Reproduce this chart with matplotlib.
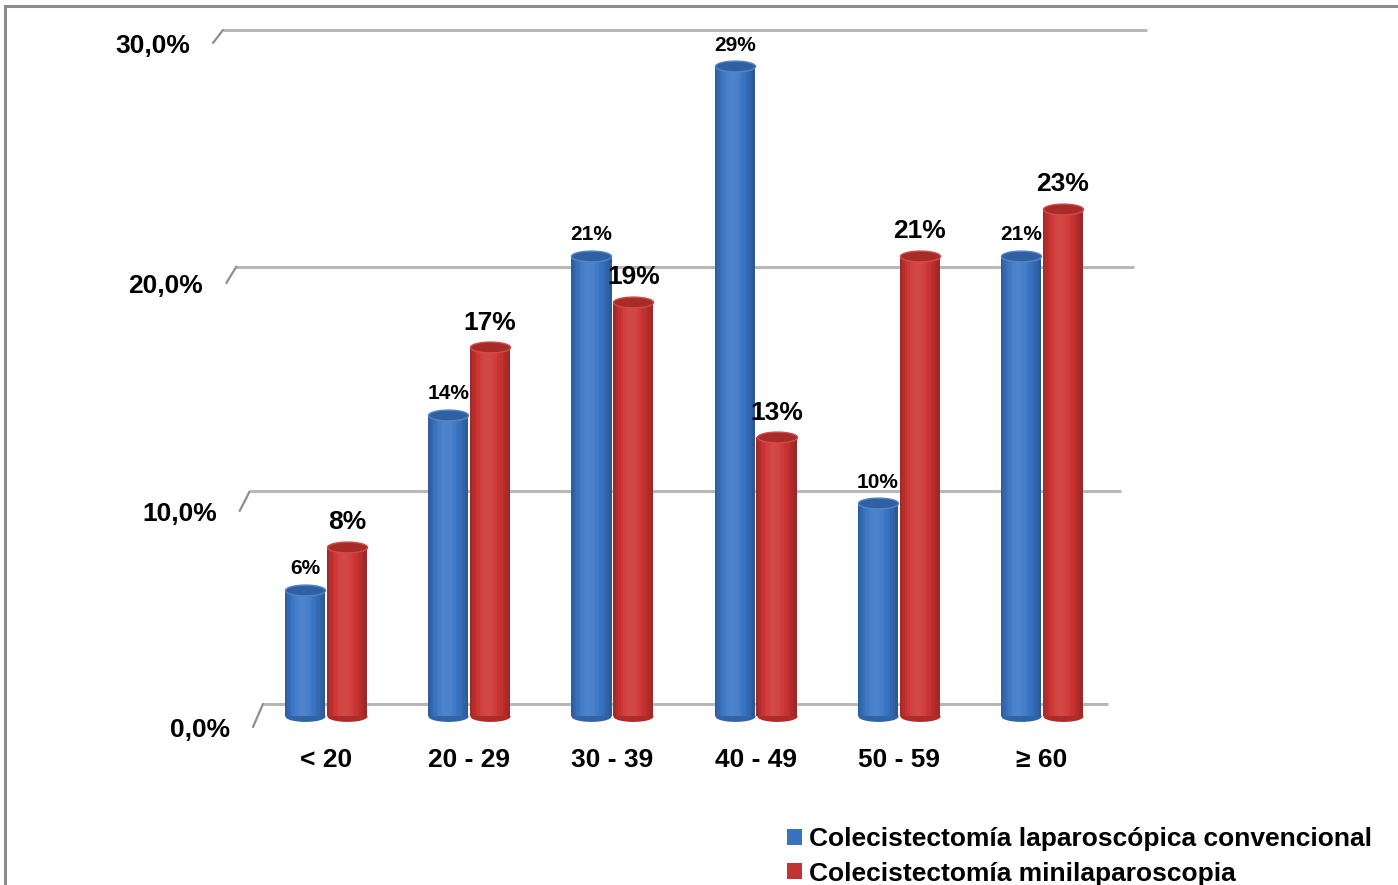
import numpy as np
import matplotlib
matplotlib.use("Agg")
import matplotlib.pyplot as plt
import matplotlib.transforms as mtransforms
from matplotlib.path import Path
from matplotlib.patches import Patch
from matplotlib.lines import Line2D

# ---- data -------------------------------------------------------------
categories = ["< 20", "20 - 29", "30 - 39", "40 - 49", "50 - 59", "≥ 60"]
convencional = [6, 14, 21, 29, 10, 21]
minilaparoscopia = [8, 17, 19, 13, 21, 23]
series_names = ["Colecistectomía laparoscópica convencional",
                "Colecistectomía minilaparoscopia"]
y_ticks = [0, 10, 20, 30]
y_tick_labels = ["0,0%", "10,0%", "20,0%", "30,0%"]

plt.rcParams["font.family"] = ["Liberation Sans", "DejaVu Sans"]
plt.rcParams["font.weight"] = "bold"

W, H = 1398, 885
fig = plt.figure(figsize=(W / 100, H / 100), dpi=100)
fig.patch.set_facecolor("white")


def px_rect(left, top, right, bottom):
    return [left / W, 1 - bottom / H, (right - left) / W, (bottom - top) / H]


# mild perspective on the value axis: gaps widen towards the top
K = 0.06 / 20.6


def fwd(v):
    v = np.asarray(v, float)
    return v + K * v * v


def inv(u):
    u = np.asarray(u, float)
    return (-1 + np.sqrt(np.clip(1 + 4 * K * u, 0, None))) / (2 * K)


step = 143.2
x0 = 326
xlim = ((223 - x0) / step, (1147 - x0) / step)

# back wall (gridlines) and the bar plane slightly in front of it
ax_grid = fig.add_axes(px_rect(223, 30, 1147, 704))
ax_bar = fig.add_axes(px_rect(223, 42, 1147, 716))
for ax in (ax_grid, ax_bar):
    ax.set_yscale("function", functions=(fwd, inv))
    ax.set_ylim(0, 30)
    ax.set_xlim(*xlim)
    ax.axis("off")

# ---- gridlines with perspective stubs ----------------------------------
blend = mtransforms.blended_transform_factory(ax_grid.transAxes, ax_grid.transData)
for v, lab in zip(y_ticks, y_tick_labels):
    depth = 1 - v / 30
    left = 40 * depth / 924
    right = 1 - 39 * depth / 924
    ax_grid.plot([left, right], [v, v], transform=blend, color="#b8b8b8",
                 lw=2.2, solid_capstyle="butt", clip_on=False, zorder=1)
    drop = 23 - v / 3
    ax_grid.annotate("", xy=(left, v), xycoords=blend, xytext=(-10, -drop),
                     textcoords="offset pixels",
                     arrowprops=dict(arrowstyle="-", color="#8e8e8e", lw=1.6,
                                     shrinkA=0, shrinkB=0))
    ax_grid.annotate(lab, xy=(left, v), xycoords=blend,
                     xytext=(-33, -drop - 10), textcoords="offset pixels",
                     ha="right", va="baseline", fontsize=19, fontweight="bold")

# ---- cylinder bars -----------------------------------------------------
x = np.arange(len(categories))
width = 0.28
offset = 0.146
n_slices = 16
t = (np.arange(n_slices) + 0.5) / n_slices
shade = 0.74 + 0.36 * np.sin(np.pi * t ** 0.85)


def shade_color(base, f):
    base = np.asarray(base, float)
    if f <= 1:
        return tuple(base * f)
    return tuple(base + (1 - base) * (f - 1))


theta = np.linspace(0, 2 * np.pi, 73)
ellipse = Path(np.column_stack([np.cos(theta), 0.27 * np.sin(theta)]), closed=True)
cap_size = (width * step * 0.72) ** 2

blue = np.array([58, 117, 196]) / 255
red = np.array([204, 52, 50]) / 255

specs = [
    (convencional, -offset, blue, 15, 15.5),
    (minilaparoscopia, offset, red, 19, 17.5),
]
for vals, dx, base, fs, lab_off in specs:
    xs = x + dx
    vals = np.asarray(vals, float)
    ax_bar.scatter(xs, np.zeros_like(vals), marker=ellipse, s=cap_size,
                   color=shade_color(base, 0.85), linewidths=0, zorder=2,
                   clip_on=False)
    for k in range(n_slices):
        ax_bar.bar(xs - width / 2 + (k + 0.5) * width / n_slices, vals,
                   width=width / n_slices * 1.1,
                   color=shade_color(base, shade[k]), linewidth=0, zorder=3)
    ax_bar.scatter(xs, vals, marker=ellipse, s=cap_size,
                   color=shade_color(base, 0.82),
                   edgecolors=[shade_color(base, 1.12)], linewidths=1.0,
                   zorder=4, clip_on=False)
    for xi, v in zip(xs, vals):
        ax_bar.annotate(f"{v:.0f}%", xy=(xi, v), xytext=(0, lab_off),
                        textcoords="offset pixels", ha="center",
                        va="baseline", fontsize=fs, fontweight="bold")

for i, cat in enumerate(categories):
    ax_bar.annotate(cat, xy=(i, 0), xytext=(0, -51), textcoords="offset pixels",
                    ha="center", va="baseline", fontsize=19, fontweight="bold")

# ---- legend ------------------------------------------------------------
handles = [Patch(facecolor="#3a72bd", edgecolor="none"),
           Patch(facecolor="#bf3532", edgecolor="none")]
fig.legend(handles, series_names, loc="upper left",
           bbox_to_anchor=(787 / W, 1 - 827 / H), frameon=False,
           prop={"size": 19, "weight": "bold"}, handlelength=0.55,
           handleheight=0.55, handletextpad=0.3, labelspacing=0.4,
           borderpad=0, borderaxespad=0)

# ---- outer frame (top and left edges) ----------------------------------
fig.add_artist(Line2D([5 / W, 1], [1 - 6 / H, 1 - 6 / H],
                      transform=fig.transFigure, color="#8c8c8c", lw=2.2))
fig.add_artist(Line2D([5 / W, 5 / W], [0, 1 - 6 / H],
                      transform=fig.transFigure, color="#8c8c8c", lw=2.2))

fig.savefig("out.png", dpi=100)
